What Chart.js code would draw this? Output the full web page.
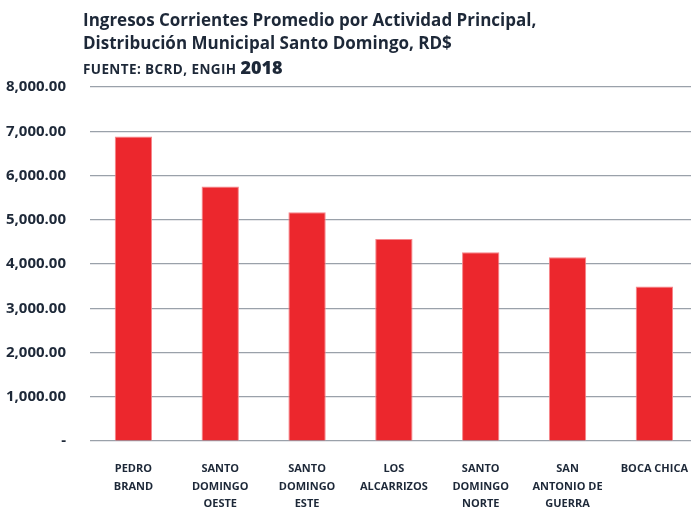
<!DOCTYPE html>
<html>
<head>
<meta charset="utf-8">
<script src="https://cdn.jsdelivr.net/npm/chart.js@4.4.0/dist/chart.umd.min.js"></script>
<style>
  body { margin: 0; background: #fff; }
  #wrap { position: relative; width: 691px; height: 510px; overflow: hidden; font-family: 'Open Sans', sans-serif; color: #1d2838; }
  #title { position: absolute; left: 83px; top: 8px; font-weight: 700; font-size: 17px; line-height: 23px; }
  #source { position: absolute; left: 83px; top: 55px; font-weight: 700; font-size: 13.5px; letter-spacing: 0.4px; }
  #source b { font-size: 18px; letter-spacing: 0; }
  #chartBox { position: absolute; left: 0; top: 0; width: 699px; height: 510px; }
</style>
</head>
<body>
<div id="wrap">
  <div id="chartBox"><canvas id="chart" width="699" height="510"></canvas></div>
  <div id="title">Ingresos Corrientes Promedio por Actividad Principal,<br>Distribución Municipal Santo Domingo, RD$</div>
  <div id="source">FUENTE: BCRD, ENGIH <b>2018</b></div>
</div>
<script>
const municipios = [
  ['PEDRO', 'BRAND'],
  ['SANTO', 'DOMINGO', 'OESTE'],
  ['SANTO', 'DOMINGO', 'ESTE'],
  ['LOS', 'ALCARRIZOS'],
  ['SANTO', 'DOMINGO', 'NORTE'],
  ['SAN', 'ANTONIO DE', 'GUERRA'],
  ['BOCA CHICA']
]
const ingresos = [6880, 5750, 5170, 4565, 4265, 4150, 3490]
const yMax = 8000
const yStep = 1000

const fmt = v => v === 0 ? '-' : v.toLocaleString('en-US', {minimumFractionDigits: 2, maximumFractionDigits: 2})

new Chart(document.getElementById('chart'), {
  type: 'bar',
  data: {
    labels: municipios,
    datasets: [{
      data: ingresos,
      backgroundColor: '#ec272d',
      borderColor: '#f6858a',
      borderWidth: 1,
      barPercentage: 0.43,
      categoryPercentage: 1
    }]
  },
  options: {
    responsive: false,
    animation: false,
    layout: { padding: { top: 87, right: 0, left: 0, bottom: 0 } },
    plugins: { legend: { display: false }, tooltip: { enabled: false } },
    scales: {
      x: {
        grid: { display: false },
        border: { display: false },
        ticks: {
          color: '#1d2838',
          font: { family: 'Open Sans', weight: 'bold', size: 11, lineHeight: 1.6 },
          maxRotation: 0,
          autoSkip: false,
          padding: 11
        },
        afterFit: s => { s.height = 69 }
      },
      y: {
        min: 0,
        max: yMax,
        border: { display: false },
        grid: { color: '#9aa1aa', lineWidth: 1.2, drawTicks: false },
        ticks: {
          stepSize: yStep,
          color: '#1d2838',
          font: { family: 'Open Sans', weight: 'bold', size: 15 },
          padding: 24,
          callback: v => fmt(v)
        },
        afterFit: s => { s.width = 90 }
      }
    }
  }
})
</script>
</body>
</html>
